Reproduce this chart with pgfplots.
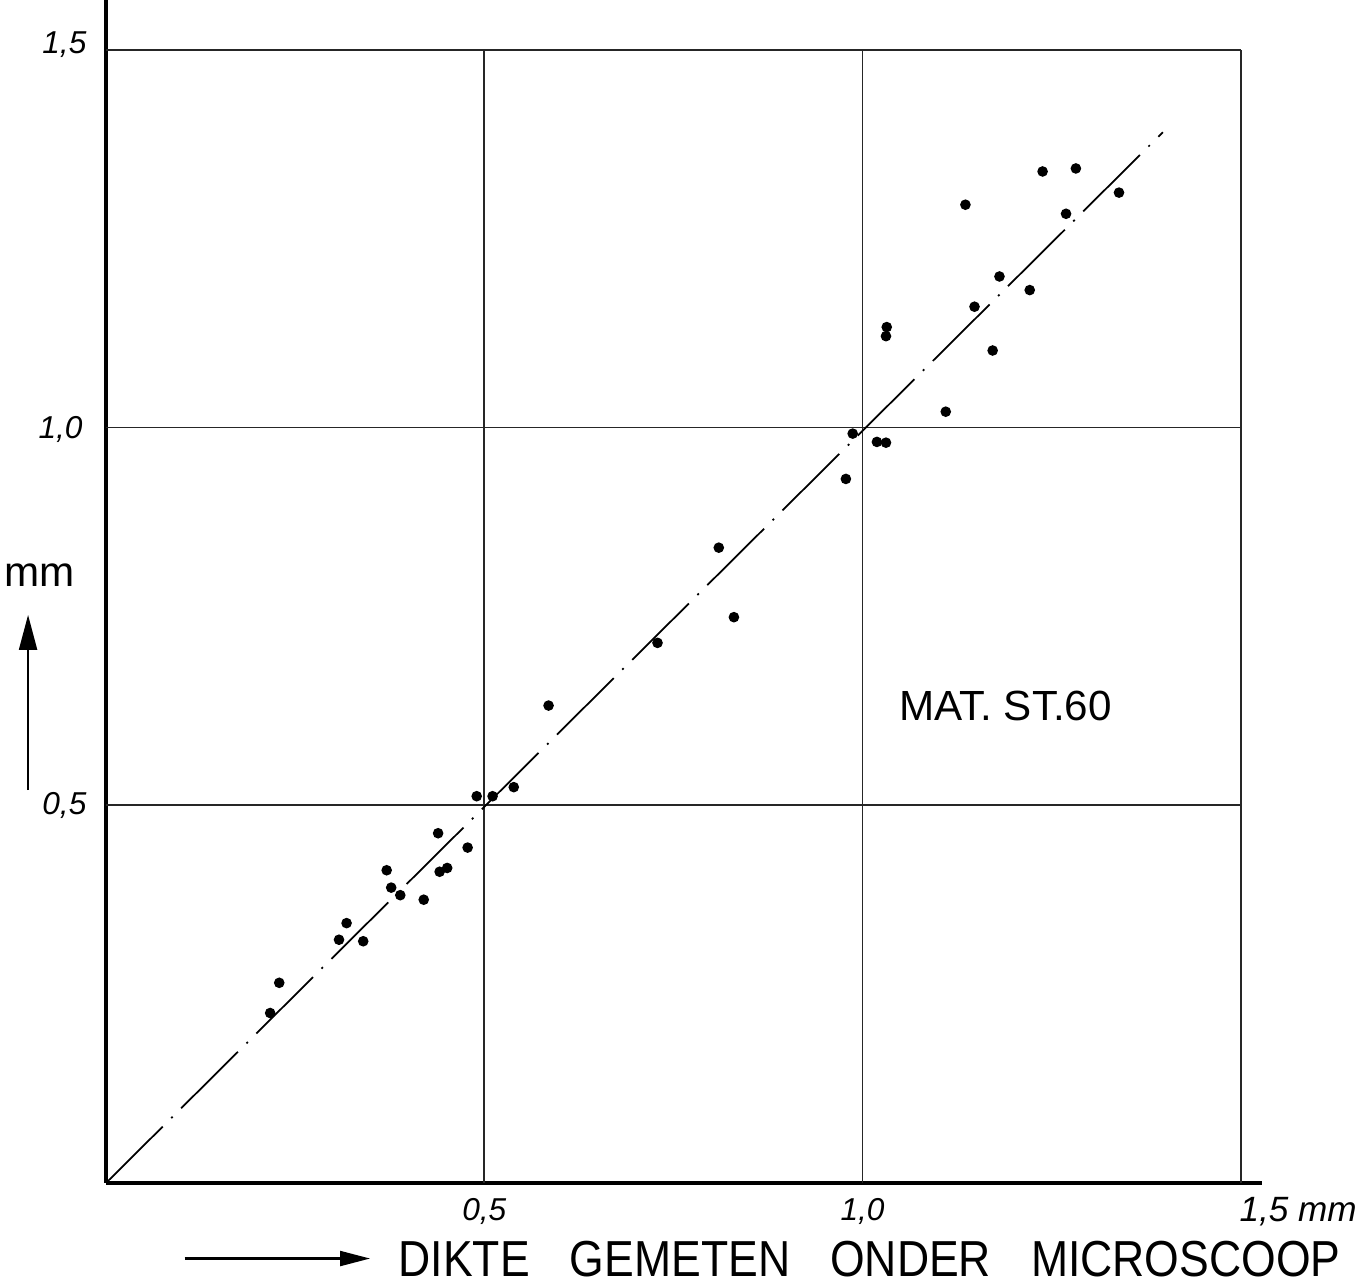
\documentclass[border=0pt]{standalone}
\usepackage{fontspec}
\setmainfont{Liberation Sans}
\usepackage{pgfplots}
\pgfplotsset{compat=1.18}
\usetikzlibrary{arrows.meta}

% measured points (thickness, two methods)
\pgfplotstableread{
x y
0.217 0.225
0.229 0.265
0.308 0.322
0.318 0.344
0.340 0.320
0.371 0.414
0.377 0.391
0.389 0.381
0.420 0.375
0.439 0.463
0.441 0.412
0.451 0.417
0.478 0.444
0.490 0.512
0.511 0.512
0.539 0.524
0.585 0.632
0.729 0.715
0.810 0.841
0.830 0.749
0.978 0.932
0.987 0.992
1.019 0.981
1.031 0.980
1.031 1.121
1.032 1.133
1.110 1.021
1.136 1.295
1.148 1.160
1.172 1.102
1.181 1.200
1.221 1.182
1.238 1.339
1.269 1.283
1.282 1.343
1.339 1.311
}\pts

\begin{document}
\begin{tikzpicture}
\useasboundingbox (-1.06,-1.04) rectangle (12.58,11.83);
\begin{axis}[
  at={(0,0)}, anchor=origin,
  scale only axis,
  width=11.56cm, height=11.83cm,
  xmin=0, xmax=1.528, ymin=0, ymax=1.566,
  axis x line=bottom, axis y line=left,
  axis line style={line width=1.2pt, -},
  xtick=\empty, ytick=\empty,
  clip=false,
]
% grid 0..1.5
\draw[line width=0.45pt, black!85] (axis cs:0.5,0) -- (axis cs:0.5,1.5);
\draw[line width=0.45pt, black!85] (axis cs:1.0,0) -- (axis cs:1.0,1.5);
\draw[line width=0.45pt, black!85] (axis cs:1.5,0) -- (axis cs:1.5,1.5);
\draw[line width=0.45pt, black!85] (axis cs:0,0.5) -- (axis cs:1.5,0.5);
\draw[line width=0.45pt, black!85] (axis cs:0,1.0) -- (axis cs:1.5,1.0);
\draw[line width=0.45pt, black!85] (axis cs:0,1.5) -- (axis cs:1.5,1.5);

% 45 degree reference line, dash-dot
\addplot[black, line width=0.5pt,
  dash pattern=on 0.8cm off 0.12cm on 0.02cm off 0.12cm]
  coordinates {(0,0) (1.397,1.391)};

\addplot[only marks, mark=*, mark size=1.3pt, black] table {\pts};

% tick labels
\node[font=\small\itshape] at (axis cs:-0.055,1.507) {1,5};
\node[font=\small\itshape] at (axis cs:-0.060,0.997) {1,0};
\node[font=\small\itshape] at (axis cs:-0.055,0.500) {0,5};
\node[font=\small\itshape] at (axis cs:0.5,-0.038) {0,5};
\node[font=\small\itshape] at (axis cs:1.0,-0.038) {1,0};
\node[font=\normalsize\itshape, anchor=west] at (axis cs:1.482,-0.038) {1,5 mm};

% axis titles
\node[font=\large] at (axis cs:-0.088,0.805) {mm};
\draw[line width=0.6pt, -{Triangle[length=0.35cm,width=0.18cm]}]
  (axis cs:-0.103,0.520) -- (axis cs:-0.103,0.752);
\draw[line width=0.6pt, -{Triangle[length=0.3cm,width=0.15cm]}]
  (axis cs:0.104,-0.100) -- (axis cs:0.349,-0.100);
\node[font=\Large, anchor=west, inner sep=0pt] at (axis cs:0.386,-0.101)
  {\scalebox{0.88}[1]{DIKTE\hspace{0.9em}GEMETEN\hspace{0.9em}ONDER\hspace{0.9em}MICROSCOOP}};

\node[font=\large] at (axis cs:1.189,0.632) {MAT. ST.60};
\end{axis}
\end{tikzpicture}
\end{document}
